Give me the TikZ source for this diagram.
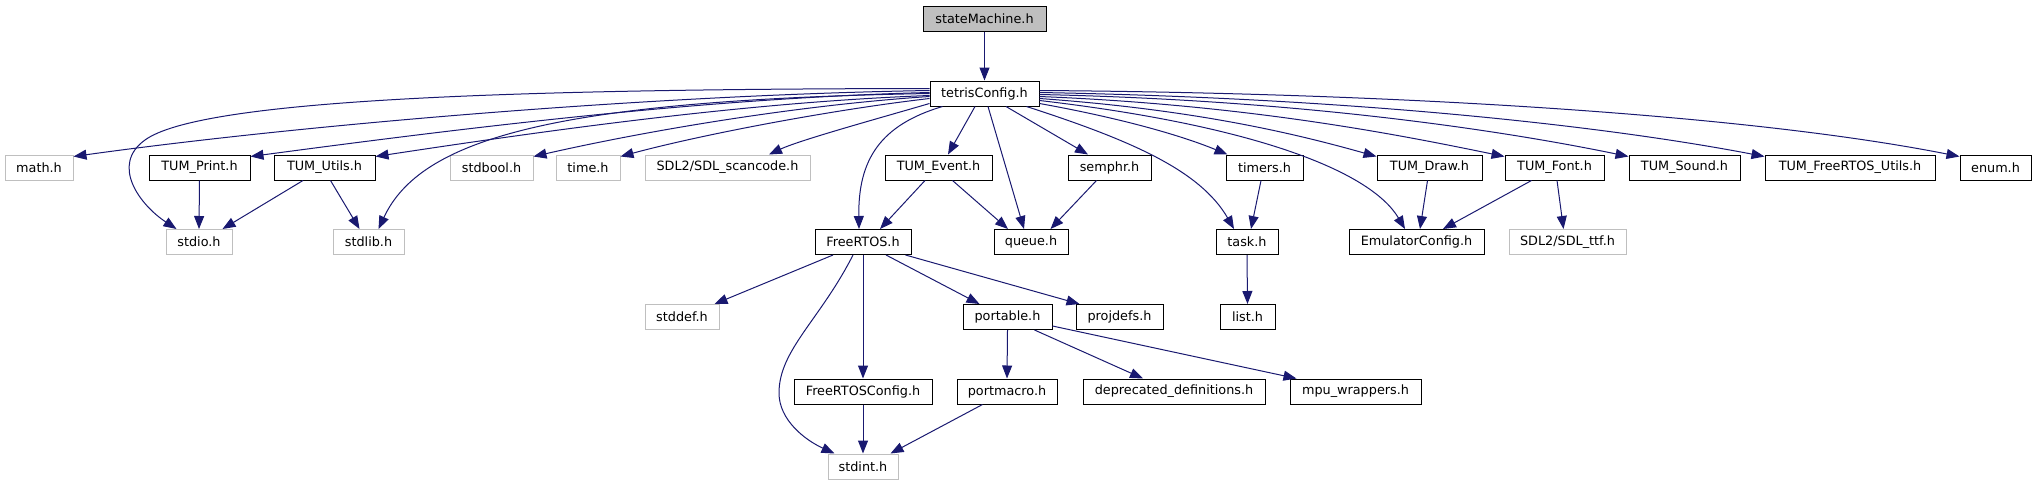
\documentclass[tikz,border=0pt]{standalone}
\usepackage{fontspec}
\setmainfont{DejaVu Sans}
\usetikzlibrary{arrows.meta,calc}
\definecolor{edgeblue}{HTML}{191970}
\definecolor{greyline}{HTML}{BFBFBF}
\tikzset{
  hbox/.style={draw=black, line width=1pt, fill=white, rectangle, minimum height=25pt, inner sep=0pt, font=\fontsize{12.8}{14}\selectfont},
  gbox/.style={hbox, draw=greyline},
  rootbox/.style={hbox, fill=greyline},
  edge/.style={draw=edgeblue, line width=1pt, -{Triangle[length=13pt,width=10pt]}},
}
\begin{document}
\begin{tikzpicture}[x=1pt,y=-1pt]
\useasboundingbox (0,0) rectangle (2036,485);
% row 0,1
\node[rootbox, minimum width=123pt] (sm) at (984.5,19) {stateMachine.h};
\node[hbox, minimum width=109pt] (tc) at (984.5,93.5) {tetrisConfig.h};
% row 2
\node[gbox, minimum width=68pt] (math) at (39,167.5) {math.h};
\node[hbox, minimum width=101pt] (tprint) at (199.5,167.5) {TUM\_Print.h};
\node[hbox, minimum width=101pt] (tutils) at (324.5,167.5) {TUM\_Utils.h};
\node[gbox, minimum width=83pt] (stdbool) at (491.5,167.5) {stdbool.h};
\node[gbox, minimum width=64pt] (time) at (588,167.5) {time.h};
\node[gbox, minimum width=165pt] (scancode) at (727.5,167.5) {SDL2/SDL\_scancode.h};
\node[hbox, minimum width=107pt] (tevent) at (938.5,167.5) {TUM\_Event.h};
\node[hbox, minimum width=83pt] (semphr) at (1109.5,167.5) {semphr.h};
\node[hbox, minimum width=77pt] (timers) at (1264.5,167.5) {timers.h};
\node[hbox, minimum width=105pt] (tdraw) at (1429.5,167.5) {TUM\_Draw.h};
\node[hbox, minimum width=99pt] (tfont) at (1554.5,167.5) {TUM\_Font.h};
\node[hbox, minimum width=111pt] (tsound) at (1684.5,167.5) {TUM\_Sound.h};
\node[hbox, minimum width=170pt] (tfru) at (1850,167.5) {TUM\_FreeRTOS\_Utils.h};
\node[hbox, minimum width=71pt] (enum) at (1995.5,167.5) {enum.h};
% row 3
\node[gbox, minimum width=66pt] (stdio) at (199,242) {stdio.h};
\node[gbox, minimum width=71pt] (stdlib) at (368.5,242) {stdlib.h};
\node[hbox, minimum width=96pt] (freertos) at (863,242) {FreeRTOS.h};
\node[hbox, minimum width=74pt] (queue) at (1031,242) {queue.h};
\node[hbox, minimum width=62pt] (task) at (1247,242) {task.h};
\node[hbox, minimum width=135pt] (emu) at (1416.5,242) {EmulatorConfig.h};
\node[gbox, minimum width=117pt] (ttf) at (1567.5,242) {SDL2/SDL\_ttf.h};
% row 4
\node[gbox, minimum width=74pt] (stddef) at (682,317) {stddef.h};
\node[hbox, minimum width=89pt] (portable) at (1007.5,317) {portable.h};
\node[hbox, minimum width=87pt] (projdefs) at (1119.5,317) {projdefs.h};
\node[hbox, minimum width=55pt] (list) at (1247.5,317) {list.h};
% row 5
\node[hbox, minimum width=138pt] (frconfig) at (863,391.5) {FreeRTOSConfig.h};
\node[hbox, minimum width=100pt] (portmacro) at (1007,391.5) {portmacro.h};
\node[hbox, minimum width=182pt] (deprecated) at (1174,391.5) {deprecated\_definitions.h};
\node[hbox, minimum width=131pt] (mpu) at (1355.5,391.5) {mpu\_wrappers.h};
% row 6
\node[gbox, minimum width=70pt] (stdint) at (863,466.5) {stdint.h};

% edges
\draw[edge] (sm.south) -- (tc.north);
% tetrisConfig, left side
\draw[edge] ($(tc.north west)+(0,8)$) .. controls (500,89) and (200,100) .. (145,140) .. controls (110,165) and (140,205) .. ($(stdio.north west)+(11,0)$);
\draw[edge] ($(tc.north west)+(0,10)$) .. controls (650,95) and (300,125) .. ($(math.north east)+(0,2)$);
\draw[edge] ($(tc.north west)+(0,12)$) .. controls (700,98) and (450,130) .. ($(tprint.north east)+(0,2)$);
\draw[edge] ($(tc.north west)+(0,13)$) .. controls (550,100) and (420,140) .. ($(stdlib.north west)+(46,0)$);
\draw[edge] ($(tc.north west)+(0,15)$) .. controls (750,102) and (550,130) .. ($(tutils.north east)+(0,2)$);
\draw[edge] ($(tc.north west)+(0,16)$) .. controls (800,105) and (650,130) .. ($(stdbool.north east)+(0,2)$);
\draw[edge] ($(tc.north west)+(0,18)$) .. controls (830,110) and (700,135) .. ($(time.north east)+(0,2)$);
\draw[edge] ($(tc.north west)+(0,23)$) .. controls (880,118) and (800,140) .. ($(scancode.north)+(41.5,0)$);
% tetrisConfig, bottom
\draw[edge] ($(tc.south west)+(13,0)$) .. controls (880,125) and (858,160) .. ($(freertos.north)+(-4,0)$);
\draw[edge] ($(tc.south west)+(45.5,0)$) -- ($(tevent.north)+(9.5,0)$);
\draw[edge] ($(tc.south)+(3.5,0)$) -- ($(queue.north)+(-7,0)$);
\draw[edge] ($(tc.south)+(21.5,0)$) -- ($(semphr.north)+(-21.5,0)$);
\draw[edge] ($(tc.south east)+(-13,0)$) .. controls (1130,140) and (1200,170) .. ($(task.north)+(-13,0)$);
% tetrisConfig, right side
\draw[edge] ($(tc.north east)+(0,23)$) .. controls (1120,118) and (1180,135) .. ($(timers.north west)+(2,0)$);
\draw[edge] ($(tc.north east)+(0,20)$) .. controls (1250,125) and (1370,170) .. ($(emu.north)+(-11.5,0)$);
\draw[edge] ($(tc.north east)+(0,18)$) .. controls (1200,110) and (1300,135) .. ($(tdraw.north west)+(0,2)$);
\draw[edge] ($(tc.north east)+(0,16)$) .. controls (1250,105) and (1400,135) .. ($(tfont.north west)+(0,2)$);
\draw[edge] ($(tc.north east)+(0,14)$) .. controls (1300,100) and (1500,130) .. ($(tsound.north west)+(0,2)$);
\draw[edge] ($(tc.north east)+(0,12)$) .. controls (1350,98) and (1600,125) .. ($(tfru.north west)+(0,2)$);
\draw[edge] ($(tc.north east)+(0,10)$) .. controls (1400,93) and (1750,115) .. ($(enum.north west)+(0,2)$);
% second level
\draw[edge] (tprint.south) -- (stdio.north);
\draw[edge] ($(tutils.south west)+(29.5,0)$) -- ($(stdio.north east)+(-10,0)$);
\draw[edge] ($(tutils.south west)+(57,0)$) -- ($(stdlib.north west)+(27,0)$);
\draw[edge] ($(tevent.south west)+(40.5,0)$) -- ($(freertos.north)+(17,0)$);
\draw[edge] ($(tevent.south west)+(68,0)$) -- ($(queue.north)+(-23,0)$);
\draw[edge] ($(semphr.south west)+(29,0)$) -- ($(queue.north)+(19.5,0)$);
\draw[edge] ($(timers.south)+(-3.5,0)$) -- ($(task.north)+(4,0)$);
\draw[edge] (task.south) -- (list.north);
\draw[edge] ($(tdraw.south)+(-2,0)$) -- ($(emu.north)+(3.5,0)$);
\draw[edge] ($(tfont.south west)+(27,0)$) -- ($(emu.north)+(26.5,0)$);
\draw[edge] ($(tfont.south)+(2.5,0)$) -- ($(ttf.north)+(-4,0)$);
% FreeRTOS
\draw[edge] ($(freertos.south west)+(18.5,0)$) -- ($(stddef.north east)+(-5,0)$);
\draw[edge] ($(freertos.south)+(-10,0)$) .. controls (820,320) and (779,350) .. (779,393) .. controls (779,420) and (805,440) .. ($(stdint.north west)+(7,0)$);
\draw[edge] (freertos.south) -- (frconfig.north);
\draw[edge] ($(freertos.south)+(23,0)$) -- ($(portable.north)+(-28,0)$);
\draw[edge] ($(freertos.south east)+(-6,0)$) -- ($(projdefs.north west)+(4,0)$);
\draw[edge] (portable.south) -- (portmacro.north);
\draw[edge] ($(portable.south)+(27,0)$) -- ($(deprecated.north)+(-31,0)$);
\draw[edge] ($(portable.south east)+(0,-4)$) -- ($(mpu.north west)+(7,0)$);
\draw[edge] (frconfig.south) -- (stdint.north);
\draw[edge] ($(portmacro.south west)+(26,0)$) -- ($(stdint.north east)+(-8,0)$);
\end{tikzpicture}
\end{document}
